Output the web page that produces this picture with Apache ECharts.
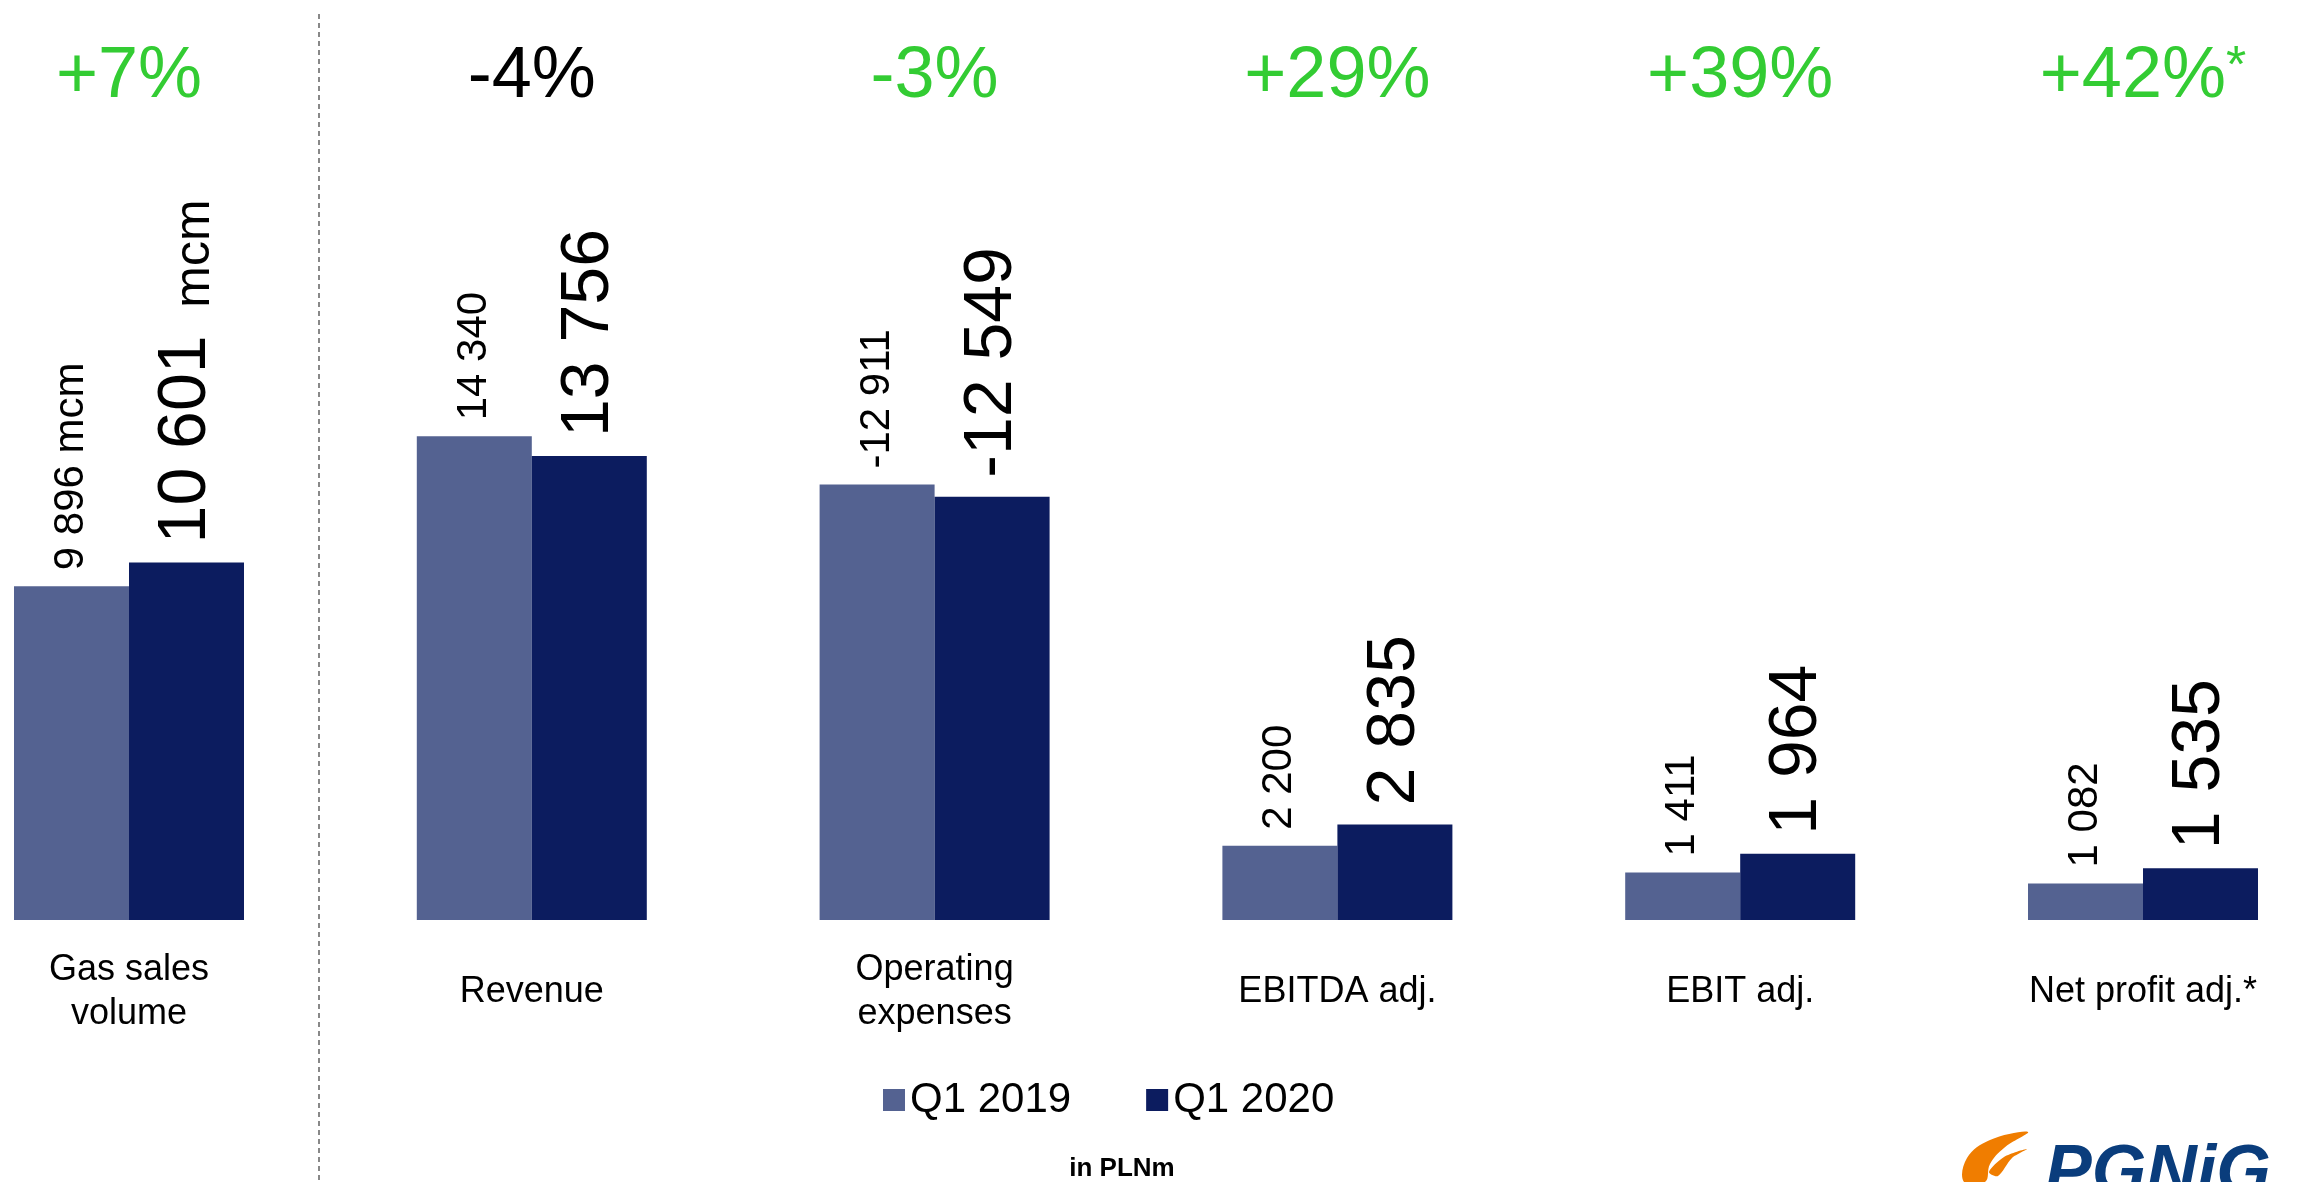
<!DOCTYPE html>
<html>
<head>
<meta charset="utf-8">
<title>PGNiG Q1 2020</title>
<script src="https://cdn.jsdelivr.net/npm/echarts@6/dist/echarts.min.js"></script>
<style>
  html, body { margin: 0; padding: 0; background: #fff; }
  #chart { width: 2298px; height: 1182px; }
</style>
</head>
<body>
<div id="chart"></div>
<script>
// data
var categories = ['Gas sales\nvolume', 'Revenue', 'Operating\nexpenses', 'EBITDA adj.', 'EBIT adj.', 'Net profit adj.*'];
var q1_2019 = [9896, 14340, -12911, 2200, 1411, 1082];
var q1_2020 = [10601, 13756, -12549, 2835, 1964, 1535];
var changes = ['+7%', '-4%', '-3%', '+29%', '+39%', '+42%'];
var changeColors = ['#33CC33', '#000000', '#33CC33', '#33CC33', '#33CC33', '#33CC33'];
var units = ['mcm', '', '', '', '', ''];

var FONT = 'Liberation Sans, Arial, sans-serif';
var GREEN = '#33CC33';

function fmt(v) {
  var s = String(Math.abs(v)).replace(/\B(?=(\d{3})+(?!\d))/g, ' ');
  return (v < 0 ? '-' : '') + s;
}

var chart = echarts.init(document.getElementById('chart'));

chart.setOption({
  animation: false,
  backgroundColor: '#fff',
  textStyle: { fontFamily: FONT },
  grid: {
    left: -72.4, right: -46.4, top: 245.4, height: 674.6,
    containLabel: false,
    outerBoundsMode: 'none'
  },
  legend: {
    data: ['Q1 2019', 'Q1 2020'],
    left: 878,
    top: 1074,
    icon: 'rect',
    itemWidth: 22,
    itemHeight: 22,
    itemGap: 75,
    textStyle: { fontSize: 42, color: '#000', fontFamily: FONT }
  },
  xAxis: [
    {
      type: 'category',
      data: categories,
      position: 'bottom',
      axisLine: { show: false },
      axisTick: { show: false },
      axisLabel: {
        interval: 0,
        margin: 72,
        verticalAlign: 'middle',
        fontSize: 36,
        lineHeight: 44,
        color: '#000',
        fontFamily: FONT
      }
    },
    {
      type: 'category',
      data: categories,
      position: 'top',
      axisLine: { show: false },
      axisTick: { show: false },
      axisLabel: {
        interval: 0,
        margin: 168,
        verticalAlign: 'middle',
        fontSize: 72,
        fontFamily: FONT,
        color: function (val, idx) { return changeColors[idx]; },
        formatter: function (val, idx) {
          // last one carries a footnote star
          return idx === 5 ? changes[idx] + '{s|*}' : changes[idx];
        },
        rich: {
          s: { fontSize: 52, color: GREEN, verticalAlign: 'top', fontFamily: FONT, padding: [0, 0, 18, 0] }
        }
      }
    }
  ],
  yAxis: { type: 'value', min: 0, max: 20000, show: false },
  series: [
    {
      name: 'Q1 2019',
      type: 'bar',
      data: q1_2019.map(Math.abs),
      barWidth: 115,
      barGap: '0%',
      itemStyle: { color: '#546291' },
      label: {
        show: true,
        position: 'top',
        rotate: 90,
        align: 'left',
        verticalAlign: 'middle',
        distance: 16,
        fontSize: 42,
        color: '#000',
        fontFamily: FONT,
        formatter: function (p) {
          var u = units[p.dataIndex];
          return fmt(q1_2019[p.dataIndex]) + (u ? ' ' + u : '');
        }
      }
    },
    {
      name: 'Q1 2020',
      type: 'bar',
      data: q1_2020.map(Math.abs),
      barWidth: 115,
      barGap: '0%',
      itemStyle: { color: '#0C1C5F' },
      label: {
        show: true,
        position: 'top',
        rotate: 90,
        align: 'left',
        verticalAlign: 'middle',
        distance: 19,
        fontSize: 68,
        color: '#000',
        fontFamily: FONT,
        formatter: function (p) {
          var u = units[p.dataIndex];
          var t = '{n|' + fmt(q1_2020[p.dataIndex]) + '}';
          return u ? t + '{u|  ' + u + '}' : t;
        },
        rich: {
          n: { fontSize: 68, color: '#000', fontFamily: FONT, verticalAlign: 'bottom' },
          u: { fontSize: 50, color: '#000', fontFamily: FONT, verticalAlign: 'bottom' }
        }
      }
    }
  ],
  graphic: [
    {
      type: 'line',
      shape: { x1: 319, y1: 14, x2: 319, y2: 1182 },
      style: { stroke: '#6b6b6b', lineWidth: 1.6, lineDash: [5, 4] }
    },
    {
      type: 'text',
      x: 1122,
      y: 1169,
      style: {
        text: 'in PLNm',
        fontSize: 26,
        fontWeight: 'bold',
        fontFamily: FONT,
        fill: '#000',
        align: 'center',
        verticalAlign: 'middle'
      }
    },
    {
      // flame of the logo
      type: 'polygon',
      shape: {
        points: [[1964, 1182], [1967, 1158], [1990, 1140], [2028, 1132], [2004, 1148], [1990, 1164], [1985, 1182]],
        smooth: 0.4
      },
      style: { fill: '#F07D00' }
    },
    {
      type: 'polygon',
      shape: {
        points: [[1989, 1172], [2004, 1157], [2027, 1149], [2012, 1158], [1998, 1176]],
        smooth: 0.3
      },
      style: { fill: '#F07D00' }
    },
    {
      type: 'text',
      x: 2045,
      y: 1140,
      style: {
        text: 'PGNiG',
        fontSize: 70,
        fontWeight: 'bold',
        fontStyle: 'italic',
        fontFamily: FONT,
        fill: '#0A3D7C',
        align: 'left',
        verticalAlign: 'top'
      }
    }
  ]
});
</script>
</body>
</html>
